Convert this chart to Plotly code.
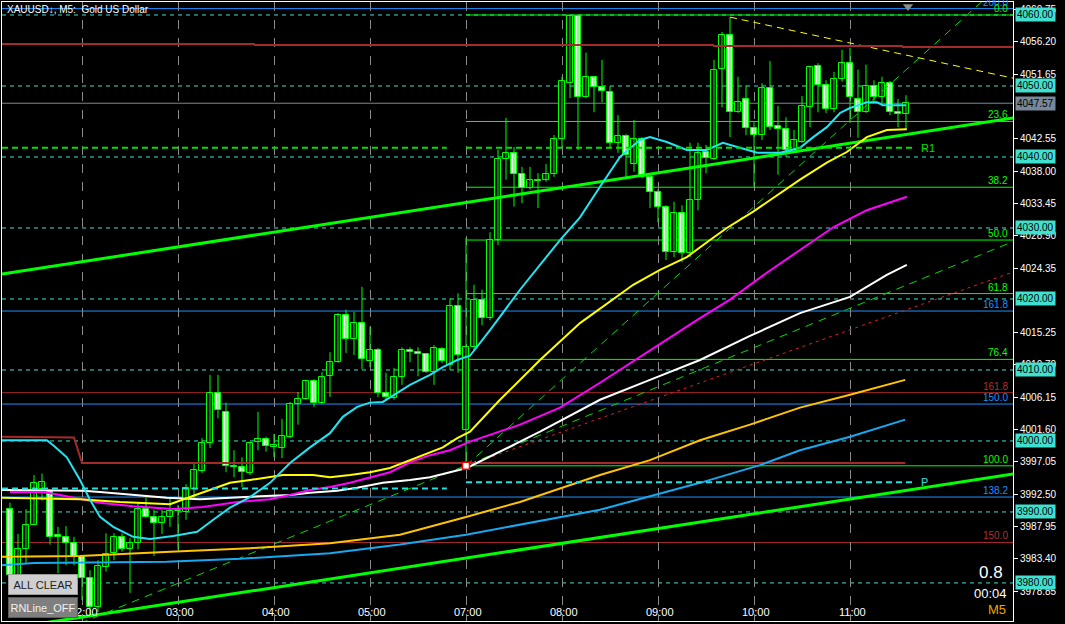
import plotly.graph_objects as go

# ---------------- data ----------------
OPEN = [3990.4,3981.1,3984.8,3988.2,3993.2,3992.8,3986.8,3986.5,3985.6,3983.7,
        3980.7,3976.6,3982.3,3984.2,3986.5,3984.8,3985.6,3990.4,3989.3,3988.5,
        3989.3,3990.1,3990.0,3993.2,3995.8,3999.7,4006.8,4004.1,3996.5,3996.3,
        3995.5,3999.9,4000.3,3999.2,3999.0,4000.6,4005.2,4005.9,4008.5,4005.4,
        4009.1,4011.1,4017.7,4014.4,4016.6,4011.3,4012.8,4006.8,4006.1,4009.0,
        4012.8,4012.5,4012.3,4009.7,4013.0,4010.7,4019.0,4001.6,4013.2,4019.9,
        4017.3,4028.3,4039.7,4040.6,4037.6,4035.6,4036.8,4036.8,4037.6,4042.5,
        4050.4,4059.9,4048.5,4051.3,4049.9,4049.2,4042.0,4043.0,4039.0,4042.5,
        4037.2,4035.1,4033.0,4026.6,4032.1,4026.5,4033.9,4040.7,4039.7,4052.4,
        4057.2,4046.3,4048.2,4044.1,4043.1,4049.7,4044.4,4043.9,4041.0,4042.1,
        4047.0,4052.8,4050.1,4046.8,4051.0,4053.2,4048.2,4046.3,4050.0,4048.5,
        4050.4,4046.3,4046.1]
HIGH = [3991.3,3986.9,3990.4,3995.2,3995.4,3993.1,3987.9,3988.0,3986.5,3983.9,
        3981.8,3983.2,3987.0,3987.0,3987.0,3986.3,3991.3,3992.0,3990.3,3990.3,
        3992.0,3991.0,3993.9,3997.0,4000.4,4009.3,4009.3,4005.4,3998.7,3997.7,
        3999.9,4004.1,4000.6,4001.0,4003.1,4005.5,4006.9,4008.6,4008.7,4009.7,
        4012.5,4018.0,4018.5,4018.2,4021.7,4016.1,4013.1,4009.6,4010.3,4013.2,
        4013.2,4013.2,4012.4,4013.5,4013.2,4020.1,4020.8,4028.6,4022.0,4021.3,
        4029.4,4041.0,4045.5,4041.4,4038.6,4038.6,4037.7,4039.0,4043.1,4051.3,
        4060.0,4060.0,4054.7,4051.3,4053.7,4050.0,4045.9,4043.2,4045.2,4042.8,
        4037.5,4035.4,4033.2,4033.7,4033.2,4042.0,4042.0,4041.7,4053.7,4057.6,
        4059.7,4051.3,4050.1,4044.9,4050.4,4053.5,4047.2,4045.6,4043.8,4048.6,
        4052.8,4053.2,4050.8,4052.0,4055.1,4055.4,4052.3,4053.0,4050.8,4051.3,
        4050.7,4048.2,4048.7]
LOW = [3978.3,3980.4,3982.8,3988.2,3991.6,3985.4,3981.4,3982.5,3982.5,3977.6,
       3975.2,3975.9,3981.6,3983.2,3984.4,3978.6,3984.7,3989.2,3983.8,3986.9,
       3987.9,3984.7,3988.9,3991.7,3995.5,3999.0,4003.2,3995.6,3994.9,3993.5,
       3995.2,3998.7,3998.5,3997.7,3997.6,4000.4,4002.3,4005.8,4004.8,4005.2,
       4006.2,4011.0,4012.4,4012.1,4010.1,4010.4,4006.2,4005.8,4005.8,4007.9,
       4011.1,4009.1,4009.6,4007.9,4011.0,4010.0,4009.6,3996.5,4012.8,4016.3,
       4017.0,4027.6,4036.8,4033.0,4033.5,4035.4,4032.8,4036.5,4037.2,4041.3,
       4048.3,4041.0,4048.3,4046.3,4047.7,4041.4,4040.6,4037.0,4037.9,4037.0,
       4032.8,4030.8,4025.5,4025.9,4025.2,4025.9,4032.5,4037.7,4039.6,4047.0,
       4042.8,4046.2,4043.1,4035.8,4042.4,4043.8,4037.5,4040.0,4040.6,4042.0,
       4044.2,4046.3,4046.2,4046.3,4050.6,4044.8,4042.7,4046.2,4047.7,4047.6,
       4045.9,4044.2,4043.8]
CLOSE = [3981.1,3984.8,3988.2,3994.1,3994.2,3986.5,3986.5,3985.6,3983.7,3980.7,
         3976.6,3982.4,3984.1,3986.5,3984.8,3985.6,3990.4,3989.3,3988.5,3989.3,
         3990.1,3990.3,3993.4,3995.9,3999.7,4006.8,4004.4,3996.5,3996.3,3995.6,
         3999.7,4000.3,3999.3,3999.4,4000.7,4005.2,4005.9,4008.5,4005.4,4009.0,
         4011.1,4017.7,4014.4,4016.6,4011.6,4012.8,4006.8,4006.2,4009.0,4012.8,
         4012.5,4012.3,4009.7,4013.1,4011.3,4019.0,4012.1,4013.2,4019.9,4017.3,
         4028.3,4039.7,4040.6,4037.6,4035.6,4036.8,4036.6,4037.6,4042.5,4050.7,
         4059.9,4048.5,4051.3,4049.9,4049.3,4042.0,4043.0,4040.3,4042.5,4037.2,
         4035.1,4033.0,4026.6,4032.1,4026.5,4033.9,4040.6,4039.9,4052.3,4057.2,
         4046.3,4047.7,4044.1,4043.1,4049.7,4044.2,4043.9,4041.0,4042.4,4047.2,
         4052.7,4050.1,4046.8,4051.0,4053.2,4048.5,4046.3,4050.0,4048.5,4050.4,
         4046.3,4046.1,4047.57]

TIME_TICK_POS = [9, 21, 33, 45, 57, 69, 81, 93, 105]
TIME_TICK_TEXT = ["02:00", "03:00", "04:00", "05:00", "07:00", "08:00", "09:00", "10:00", "11:00"]

PRICE_TICKS = [4060.75, 4056.20, 4051.65, 4042.55, 4038.00, 4033.45, 4028.90, 4024.35,
               4015.25, 4010.70, 4006.15, 4001.60, 3997.05, 3992.50, 3987.95, 3983.40, 3978.85]
ROUND_LEVELS = [4060, 4050, 4040, 4030, 4020, 4010, 4000, 3990, 3980]
LAST_PRICE = 4047.57

# moving averages (index, price) read at sample points
CYAN_X = [-1, 4.6, 5.4, 7.1, 8.75, 10, 11.25, 12.9, 15.4, 17.5, 20.4, 23.4, 25.4, 27.5, 30, 32.5, 35,
          37.5, 40, 41.6, 43.4, 45, 46.6, 48.4, 50, 52.5, 54.1, 55.9, 57.5, 60, 63.75, 68.75, 71.25,
          73.75, 76.25, 78.75, 80, 82.1, 84.6, 87.1, 89.1, 91.25, 93.4, 96.25, 98.75, 100.4, 102.1,
          103.75, 105, 107.1, 108.4, 109.1, 112]
CYAN_Y = [4000.1, 4000.1, 3999.4, 3997.7, 3994.5, 3991.7, 3989.3, 3987.9, 3986.5, 3986.2, 3986.6,
          3987.2, 3988.9, 3990.6, 3992.1, 3994.1, 3996.9, 3999.1, 4001.1, 4003.4, 4004.8, 4005.4,
          4005.5, 4006.8, 4007.9, 4009.3, 4010.4, 4011.4, 4012.0, 4015.6, 4021.3, 4028.3, 4031.5,
          4035.8, 4040.0, 4042.4, 4042.8, 4042.1, 4041.0, 4041.0, 4042.0, 4041.3, 4040.6, 4040.6,
          4041.3, 4042.8, 4044.2, 4046.2, 4046.9, 4047.7, 4047.7, 4047.3, 4047.3]
YELLOW_X = [-1, 8.75, 13.75, 20, 22.5, 25, 27.5, 30, 34.1, 37.9, 40, 42.5, 45, 47.5, 50, 52.5, 54.1,
            55.9, 57.5, 61.25, 66.25, 71.25, 75.9, 77.9, 81.25, 84.6, 87.5, 89.6, 92.9, 96.25, 98.75,
            102.1, 104.6, 107.1, 109.6, 112.1]
YELLOW_Y = [3992.0, 3991.8, 3991.4, 3991.1, 3992.1, 3993.1, 3994.1, 3994.5, 3995.2, 3995.2, 3994.9,
            3995.2, 3995.6, 3996.2, 3997.3, 3998.4, 3999.1, 4000.4, 4001.3, 4005.8, 4011.4, 4016.6,
            4020.3, 4022.0, 4024.1, 4025.9, 4028.3, 4030.0, 4032.3, 4034.9, 4036.8, 4039.2, 4040.7,
            4042.8, 4043.8, 4043.9]
MAGENTA_X = [0, 4.1, 6.25, 9.6, 11.25, 15.4, 20.4, 24.1, 28.4, 32.5, 34.6, 37.5, 40, 42.5, 45, 47.5,
             50, 52.5, 55, 57.5, 63.75, 68.75, 73.75, 80, 86.25, 90, 94.6, 98.75, 102.9, 107.1, 112.1]
MAGENTA_Y = [3992.8, 3992.8, 3992.4, 3991.7, 3991.3, 3990.8, 3990.4, 3990.7, 3991.4, 3991.8, 3992.3,
             3993.1, 3993.5, 3994.1, 3994.9, 3995.6, 3997.0, 3998.0, 3998.7, 3999.9, 4002.3, 4004.7,
             4008.2, 4012.8, 4017.3, 4019.9, 4023.7, 4026.9, 4030.1, 4032.5, 4034.4]
WHITE_X = [-1, 9.1, 11.25, 15.4, 19.6, 23.75, 30, 35, 37.5, 40.9, 43.4, 46.6, 50, 52.5, 55, 57.1,
           66.25, 73.75, 80, 86.25, 92.5, 98.75, 105, 109.6, 112.1]
WHITE_Y = [3993.1, 3993.0, 3992.8, 3992.4, 3992.0, 3991.8, 3992.1, 3992.4, 3992.7, 3993.0, 3993.4,
           3994.1, 3994.5, 3994.9, 3995.6, 3996.2, 4001.3, 4005.8, 4008.6, 4011.4, 4014.8, 4018.0,
           4020.3, 4023.4, 4024.8]
ORANGE_X = [-1, 8.75, 20, 30, 40, 48.75, 57, 63.75, 73.75, 80, 86.25, 92.5, 98.75, 105, 111.9]
ORANGE_Y = [3983.7, 3983.8, 3984.4, 3984.9, 3985.6, 3986.8, 3989.3, 3991.4, 3995.2, 3997.3, 4000.1,
            4002.3, 4004.7, 4006.5, 4008.6]
BLUE_X = [-1, 3, 19.6, 28.75, 40, 48.75, 57, 63.75, 73.75, 86.25, 93.75, 98.75, 105, 111.9]
BLUE_Y = [3982.5, 3982.8, 3983.0, 3983.4, 3984.2, 3985.4, 3986.8, 3988.2, 3990.3, 3994.1, 3996.6,
          3998.7, 4000.6, 4003.0]
BROWN_LOW_X = [-1, 8, 9, 111.9]
BROWN_LOW_Y = [4000.6, 4000.5, 3996.9, 3996.9]
BROWN_TOP_X = [-1, 30.5, 30.6, 87.9, 88, 111.5, 111.6, 125.4]
BROWN_TOP_Y = [4055.9, 4055.9, 4055.77, 4055.77, 4055.63, 4055.63, 4055.49, 4055.49]

# fibonacci levels
FIB_GREEN_LEVELS = [4060.0, 4045.0, 4035.74, 4028.3, 4020.76, 4011.49, 3996.5]
FIB_GREEN_TEXT = ["0.0", "23.6", "38.2", "50.0", "61.8", "76.4", "100.0"]
FIB_BLUE_LEVELS = [4060.9, 4018.3, 4005.2, 3992.1]
FIB_BLUE_TEXT = ["200.0", "161.8", "150.0", "138.2"]
FIB_RED_LEVELS = [4006.8, 3985.7]
FIB_RED_TEXT = ["161.8", "150.0"]
FIB_START = 57

# trend lines  (x index pairs, price pairs)
TREND_UP_X, TREND_UP_Y = [-1, 125.4], [4023.5, 4045.5]
TREND_LOW_X, TREND_LOW_Y = [3, 125.4], [3974.15, 3995.35]
FAN_A_X, FAN_A_Y = [8.75, 125.4], [3974.3, 4028.1]
FAN_B_X, FAN_B_Y = [57, 121.5], [3996.5, 4061.9]
RED_DOT_X, RED_DOT_Y = [57, 125.4], [3996.5, 4023.8]
YEL_DASH_X, YEL_DASH_Y = [90, 125.4], [4059.7, 4051.1]

PIVOT_R1 = [4041.3, 4041.3]
PIVOT_P = [3993.3, 3994.2]
PIVOT_SEG_X = [[-1, 54.6], [57, 112.75]]

# ---------------- figure ----------------
X_RANGE = [-1, 125.375]
Y_RANGE = [3974.64, 4061.83]

fig = go.Figure()

# wicks
wx, wy = [], []
for i in range(len(OPEN)):
    wx += [i, i, None]
    wy += [LOW[i], HIGH[i], None]
fig.add_trace(go.Scatter(x=wx, y=wy, mode="lines", line=dict(color="#00ff00", width=1),
                         hoverinfo="skip", showlegend=False))
# bodies
idx = list(range(len(OPEN)))
base = [min(o, c) for o, c in zip(OPEN, CLOSE)]
height = [abs(c - o) for o, c in zip(OPEN, CLOSE)]
colors = ["#000000" if c >= o else "#ffffff" for o, c in zip(OPEN, CLOSE)]
fig.add_trace(go.Bar(x=idx, y=height, base=base, width=0.7,
                     marker=dict(color=colors, line=dict(color="#00ff00", width=1)),
                     hoverinfo="skip", showlegend=False))

def line(x, y, color, width=2, dash=None):
    fig.add_trace(go.Scatter(x=x, y=y, mode="lines",
                             line=dict(color=color, width=width, dash=dash),
                             hoverinfo="skip", showlegend=False))

# trend lines
line(TREND_UP_X, TREND_UP_Y, "#00ff00", 3)
line(TREND_LOW_X, TREND_LOW_Y, "#00ff00", 3)
line(FAN_A_X, FAN_A_Y, "#00dd00", 1, "8px,6px")
line(FAN_B_X, FAN_B_Y, "#00dd00", 1, "8px,6px")
line(RED_DOT_X, RED_DOT_Y, "#e02020", 1, "3px,4px")
line(YEL_DASH_X, YEL_DASH_Y, "#ffff00", 1, "7px,5px")

# brown lines
line(BROWN_TOP_X, BROWN_TOP_Y, "#a52a2a", 2)
line(BROWN_LOW_X, BROWN_LOW_Y, "#a52a2a", 2)

# moving averages
line(ORANGE_X, ORANGE_Y, "#ffc400", 2)
line(BLUE_X, BLUE_Y, "#18a8f0", 2)
line(WHITE_X, WHITE_Y, "#ffffff", 2)
line(MAGENTA_X, MAGENTA_Y, "#ff00ff", 2)
line(YELLOW_X, YELLOW_Y, "#ffff00", 2)
line(CYAN_X, CYAN_Y, "#22e4f2", 2)

# pivot lines
for k, seg in enumerate(PIVOT_SEG_X):
    line(seg, [PIVOT_R1[k]] * 2, "#00e000", 2, "6px,4px")
    line(seg, [PIVOT_P[k]] * 2, "#20e0e0", 2, "6px,4px")

# fib anchor marker
fig.add_trace(go.Scatter(x=[FIB_START], y=[3996.5], mode="markers",
                         marker=dict(symbol="square", size=7, color="#ffffff",
                                     line=dict(color="#ff0000", width=1.5)),
                         hoverinfo="skip", showlegend=False))
# chart shift marker
fig.add_trace(go.Scatter(x=[112.25], y=[4061.2], mode="markers",
                         marker=dict(symbol="triangle-down", size=9, color="#8c8c8c"),
                         hoverinfo="skip", showlegend=False))

shapes = []
for lv in ROUND_LEVELS:
    shapes.append(dict(type="line", xref="paper", x0=0, x1=1, yref="y", y0=lv, y1=lv,
                       line=dict(color="#40e0d0", width=1, dash="4px,4px"), layer="below"))
shapes.append(dict(type="line", xref="paper", x0=0, x1=1, yref="y", y0=LAST_PRICE, y1=LAST_PRICE,
                   line=dict(color="#778899", width=1), layer="below"))
for lv in FIB_GREEN_LEVELS:
    shapes.append(dict(type="line", xref="x", x0=FIB_START, x1=X_RANGE[1], yref="y", y0=lv, y1=lv,
                       line=dict(color="#00ff00", width=1), layer="below"))
for lv in FIB_BLUE_LEVELS:
    shapes.append(dict(type="line", xref="paper", x0=0, x1=1, yref="y", y0=lv, y1=lv,
                       line=dict(color="#1e90ff", width=1), layer="below"))
for lv in FIB_RED_LEVELS:
    shapes.append(dict(type="line", xref="paper", x0=0, x1=1, yref="y", y0=lv, y1=lv,
                       line=dict(color="#a52a2a", width=1), layer="below"))

ann = []
FONT = "Liberation Sans"
PH = 619.0  # plot height in px
def py(px):  # screen y pixel -> paper y
    return (621 - px) / PH
def pxx(px):  # screen x pixel -> paper x
    return (px - 2) / 1011.0

# title
ann.append(dict(text="XAUUSD\u2193, M5:  Gold US Dollar", xref="paper", yref="paper", x=pxx(5), y=py(9),
                xanchor="left", yanchor="middle", showarrow=False,
                font=dict(family=FONT, size=10, color="#ffffff")))
# time labels
for p, t in zip(TIME_TICK_POS, TIME_TICK_TEXT):
    ann.append(dict(text=t, x=p, xref="x", y=py(612), yref="paper", xanchor="center", yanchor="middle",
                    xshift=2, showarrow=False,
                    font=dict(family=FONT, size=11, color="#ffffff")))
# fib texts
for lv, t in zip(FIB_GREEN_LEVELS, FIB_GREEN_TEXT):
    ann.append(dict(text=t, x=125.0, xref="x", y=lv, yref="y", xanchor="right", yanchor="bottom",
                    yshift=-1, showarrow=False, font=dict(family=FONT, size=10, color="#00ff00")))
for lv, t in zip(FIB_BLUE_LEVELS, FIB_BLUE_TEXT):
    ann.append(dict(text=t, x=125.0, xref="x", y=lv, yref="y", xanchor="right", yanchor="bottom",
                    yshift=-1, showarrow=False, font=dict(family=FONT, size=10, color="#1e90ff")))
for lv, t in zip(FIB_RED_LEVELS, FIB_RED_TEXT):
    ann.append(dict(text=t, x=125.0, xref="x", y=lv, yref="y", xanchor="right", yanchor="bottom",
                    yshift=-1, showarrow=False, font=dict(family=FONT, size=10, color="#b03030")))
# pivot labels
ann.append(dict(text="R1", x=113.6, xref="x", y=PIVOT_R1[1], yref="y", xanchor="left",
                showarrow=False, font=dict(family=FONT, size=11, color="#00e000")))
ann.append(dict(text="P", x=113.6, xref="x", y=PIVOT_P[1], yref="y", xanchor="left",
                showarrow=False, font=dict(family=FONT, size=11, color="#20e0e0")))
# price boxes
for lv in ROUND_LEVELS:
    ann.append(dict(text=f"{lv:.2f}", xref="paper", x=1, xanchor="left", xshift=2, y=lv, yref="y",
                    showarrow=False, bgcolor="#40e0d0", borderpad=1,
                    font=dict(family=FONT, size=10, color="#000000")))
ann.append(dict(text=f"{LAST_PRICE:.2f}", xref="paper", x=1, xanchor="left", xshift=2, y=LAST_PRICE,
                yref="y", showarrow=False, bgcolor="#778899", borderpad=1,
                font=dict(family=FONT, size=10, color="#000000")))
# bottom right info
ann.append(dict(text="0.8", x=pxx(991), xref="paper", xanchor="center", y=py(572), yref="paper",
                yanchor="middle", showarrow=False, font=dict(family=FONT, size=17, color="#ffffff")))
ann.append(dict(text="00:04", x=pxx(990), xref="paper", xanchor="center", y=py(593), yref="paper",
                yanchor="middle", showarrow=False, font=dict(family=FONT, size=13, color="#ffffff")))
ann.append(dict(text="M5", x=pxx(997), xref="paper", xanchor="center", y=py(609), yref="paper",
                yanchor="middle", showarrow=False, font=dict(family=FONT, size=13, color="#e8a800")))
# buttons
ann.append(dict(text="ALL CLEAR", x=pxx(8), xref="paper", y=py(584.5), yref="paper",
                xanchor="left", yanchor="middle", showarrow=False, bgcolor="#cfcfcf",
                bordercolor="#9a9a9a", borderwidth=1, borderpad=2, width=64, height=15,
                font=dict(family=FONT, size=11, color="#222222")))
ann.append(dict(text="RNLine_OFF", x=pxx(8), xref="paper", y=py(607), yref="paper",
                xanchor="left", yanchor="middle", showarrow=False, bgcolor="#7f7f7f",
                bordercolor="#5a5a5a", borderwidth=1, borderpad=2, width=64, height=15,
                font=dict(family=FONT, size=11, color="#f0f0f0")))

fig.update_layout(
    width=1065, height=624,
    margin=dict(l=2, r=52, t=2, b=3, autoexpand=False),
    paper_bgcolor="#000000", plot_bgcolor="#000000",
    shapes=shapes, annotations=ann, bargap=0, showlegend=False,
    xaxis=dict(range=X_RANGE, tickvals=TIME_TICK_POS, showticklabels=False, ticks="",
               showgrid=True, gridcolor="#8a8a8a", griddash="dash", gridwidth=1,
               zeroline=False, showline=True, linecolor="#ffffff", linewidth=1, mirror=True,
               fixedrange=True),
    yaxis=dict(range=Y_RANGE, side="right", tickvals=PRICE_TICKS,
               ticktext=[f"{v:.2f}" for v in PRICE_TICKS], ticks="outside", ticklen=4,
               tickcolor="#ffffff", tickfont=dict(family=FONT, size=10, color="#ffffff"),
               showgrid=False, zeroline=False, showline=True, linecolor="#ffffff", linewidth=1,
               mirror=True, fixedrange=True),
)

fig.write_html("out.html", config={"displayModeBar": False},
               post_script="document.body.style.margin='0';document.body.style.overflow='hidden';")
